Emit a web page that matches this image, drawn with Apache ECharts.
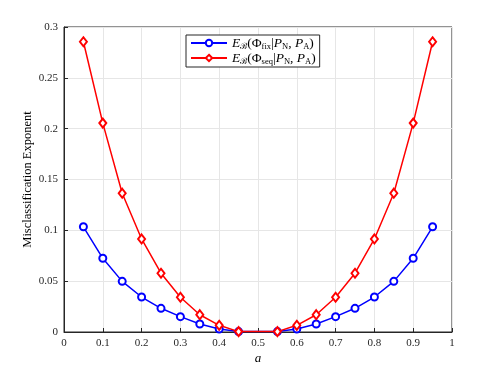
<!DOCTYPE html>
<html>
<head>
<meta charset="UTF-8">
<script src="https://cdn.jsdelivr.net/npm/echarts@6/dist/echarts.min.js"></script>
<style>
html, body { margin: 0; padding: 0; background: #fff; }
#chart { width: 498px; height: 374px; }
</style>
</head>
<body>
<div id="chart"></div>
<script>
// a values (0.5 has no point, lines join 0.45 -> 0.55)
var aValues = [0.05, 0.1, 0.15, 0.2, 0.25, 0.3, 0.35, 0.4, 0.45, 0.55, 0.6, 0.65, 0.7, 0.75, 0.8, 0.85, 0.9, 0.95];
var fixValues = [0.1035, 0.0725, 0.0498, 0.0344, 0.0233, 0.0151, 0.0079, 0.003, 0.0004, 0.0004, 0.003, 0.0079, 0.0151, 0.0233, 0.0344, 0.0498, 0.0725, 0.1035];
var seqValues = [0.2855, 0.2055, 0.1365, 0.0915, 0.0578, 0.0342, 0.017, 0.0066, 0.0004, 0.0004, 0.0066, 0.017, 0.0342, 0.0578, 0.0915, 0.1365, 0.2055, 0.2855];
var xTicks = [0, 0.1, 0.2, 0.3, 0.4, 0.5, 0.6, 0.7, 0.8, 0.9, 1];
var yTicks = [0, 0.05, 0.1, 0.15, 0.2, 0.25, 0.3];

var serif = '"Liberation Serif", "DejaVu Serif", serif';

function pairs(xs, ys) {
	var out = [];
	for (var i = 0; i < xs.length; i++) out.push([xs[i], ys[i]]);
	return out;
}

var legendNames = {
	fix: '{i|E}{s|\u212C}{n|(\u03A6}{s|fix}{n||}{i|P}{s|N}{n|, }{i|P}{s|A}{n|)}',
	seq: '{i|E}{s|\u212C}{n|(\u03A6}{s|seq}{n||}{i|P}{s|N}{n|, }{i|P}{s|A}{n|)}'
};

var option = {
	animation: false,
	backgroundColor: '#fff',
	textStyle: { fontFamily: serif },
	grid: {
		left: 64, right: 46, top: 27, bottom: 42,
		show: true, borderColor: '#262626', borderWidth: 1
	},
	legend: {
		data: ['fix', 'seq'],
		orient: 'vertical',
		left: 186, top: 35,
		backgroundColor: '#fff',
		borderColor: '#262626', borderWidth: 1,
		borderRadius: 0,
		padding: [1, 4, 1, 4],
		itemGap: 0,
		itemWidth: 36, itemHeight: 8,
		formatter: function (name) { return legendNames[name]; },
		textStyle: {
			fontFamily: serif,
			rich: {
				i: { fontFamily: serif, fontStyle: 'italic', fontSize: 13.5, color: '#000', lineHeight: 16, verticalAlign: 'middle' },
				n: { fontFamily: serif, fontSize: 13.5, color: '#000', lineHeight: 16, verticalAlign: 'middle' },
				s: { fontFamily: serif, fontSize: 8.5, color: '#000', lineHeight: 16, verticalAlign: 'bottom', padding: [6, 0, 0, 0] }
			}
		}
	},
	xAxis: {
		type: 'value', min: 0, max: 1, interval: 0.1,
		name: 'a', nameLocation: 'middle', nameGap: 20, nameMoveOverlap: false,
		nameTextStyle: { fontFamily: serif, fontStyle: 'italic', fontSize: 13, color: '#000' },
		axisLine: { lineStyle: { color: '#262626' } },
		axisTick: { inside: true, length: 4, lineStyle: { color: '#262626' } },
		axisLabel: {
			fontFamily: serif, fontSize: 11, color: '#262626', margin: 6,
			formatter: function (v) { return String(Math.round(v * 10) / 10); }
		},
		splitLine: { show: true, lineStyle: { color: '#e6e6e6' } }
	},
	yAxis: {
		type: 'value', min: 0, max: 0.3, interval: 0.05,
		name: 'Misclassification Exponent', nameLocation: 'middle', nameGap: 30, nameMoveOverlap: false,
		nameTextStyle: { fontFamily: serif, fontSize: 12.5, color: '#000' },
		axisLine: { show: true, lineStyle: { color: '#262626' } },
		axisTick: { show: true, inside: true, length: 4, lineStyle: { color: '#262626' } },
		axisLabel: {
			fontFamily: serif, fontSize: 11, color: '#262626', margin: 6,
			formatter: function (v) { return String(Math.round(v * 100) / 100); }
		},
		splitLine: { show: true, lineStyle: { color: '#e6e6e6' } }
	},
	series: [{
		name: 'fix',
		type: 'line',
		data: pairs(aValues, fixValues),
		symbol: 'emptyCircle', symbolSize: 7,
		lineStyle: { color: '#0000ff', width: 1.5 },
		itemStyle: { color: '#0000ff', borderWidth: 1.5 },
		z: 3
	}, {
		name: 'seq',
		type: 'line',
		data: pairs(aValues, seqValues),
		symbol: 'emptyDiamond', symbolSize: [7, 9],
		lineStyle: { color: '#ff0000', width: 1.5 },
		itemStyle: { color: '#ff0000', borderWidth: 1.5 },
		z: 4
	}]
};

var myChart = echarts.init(document.getElementById('chart'));
myChart.setOption(option);
</script>
</body>
</html>
